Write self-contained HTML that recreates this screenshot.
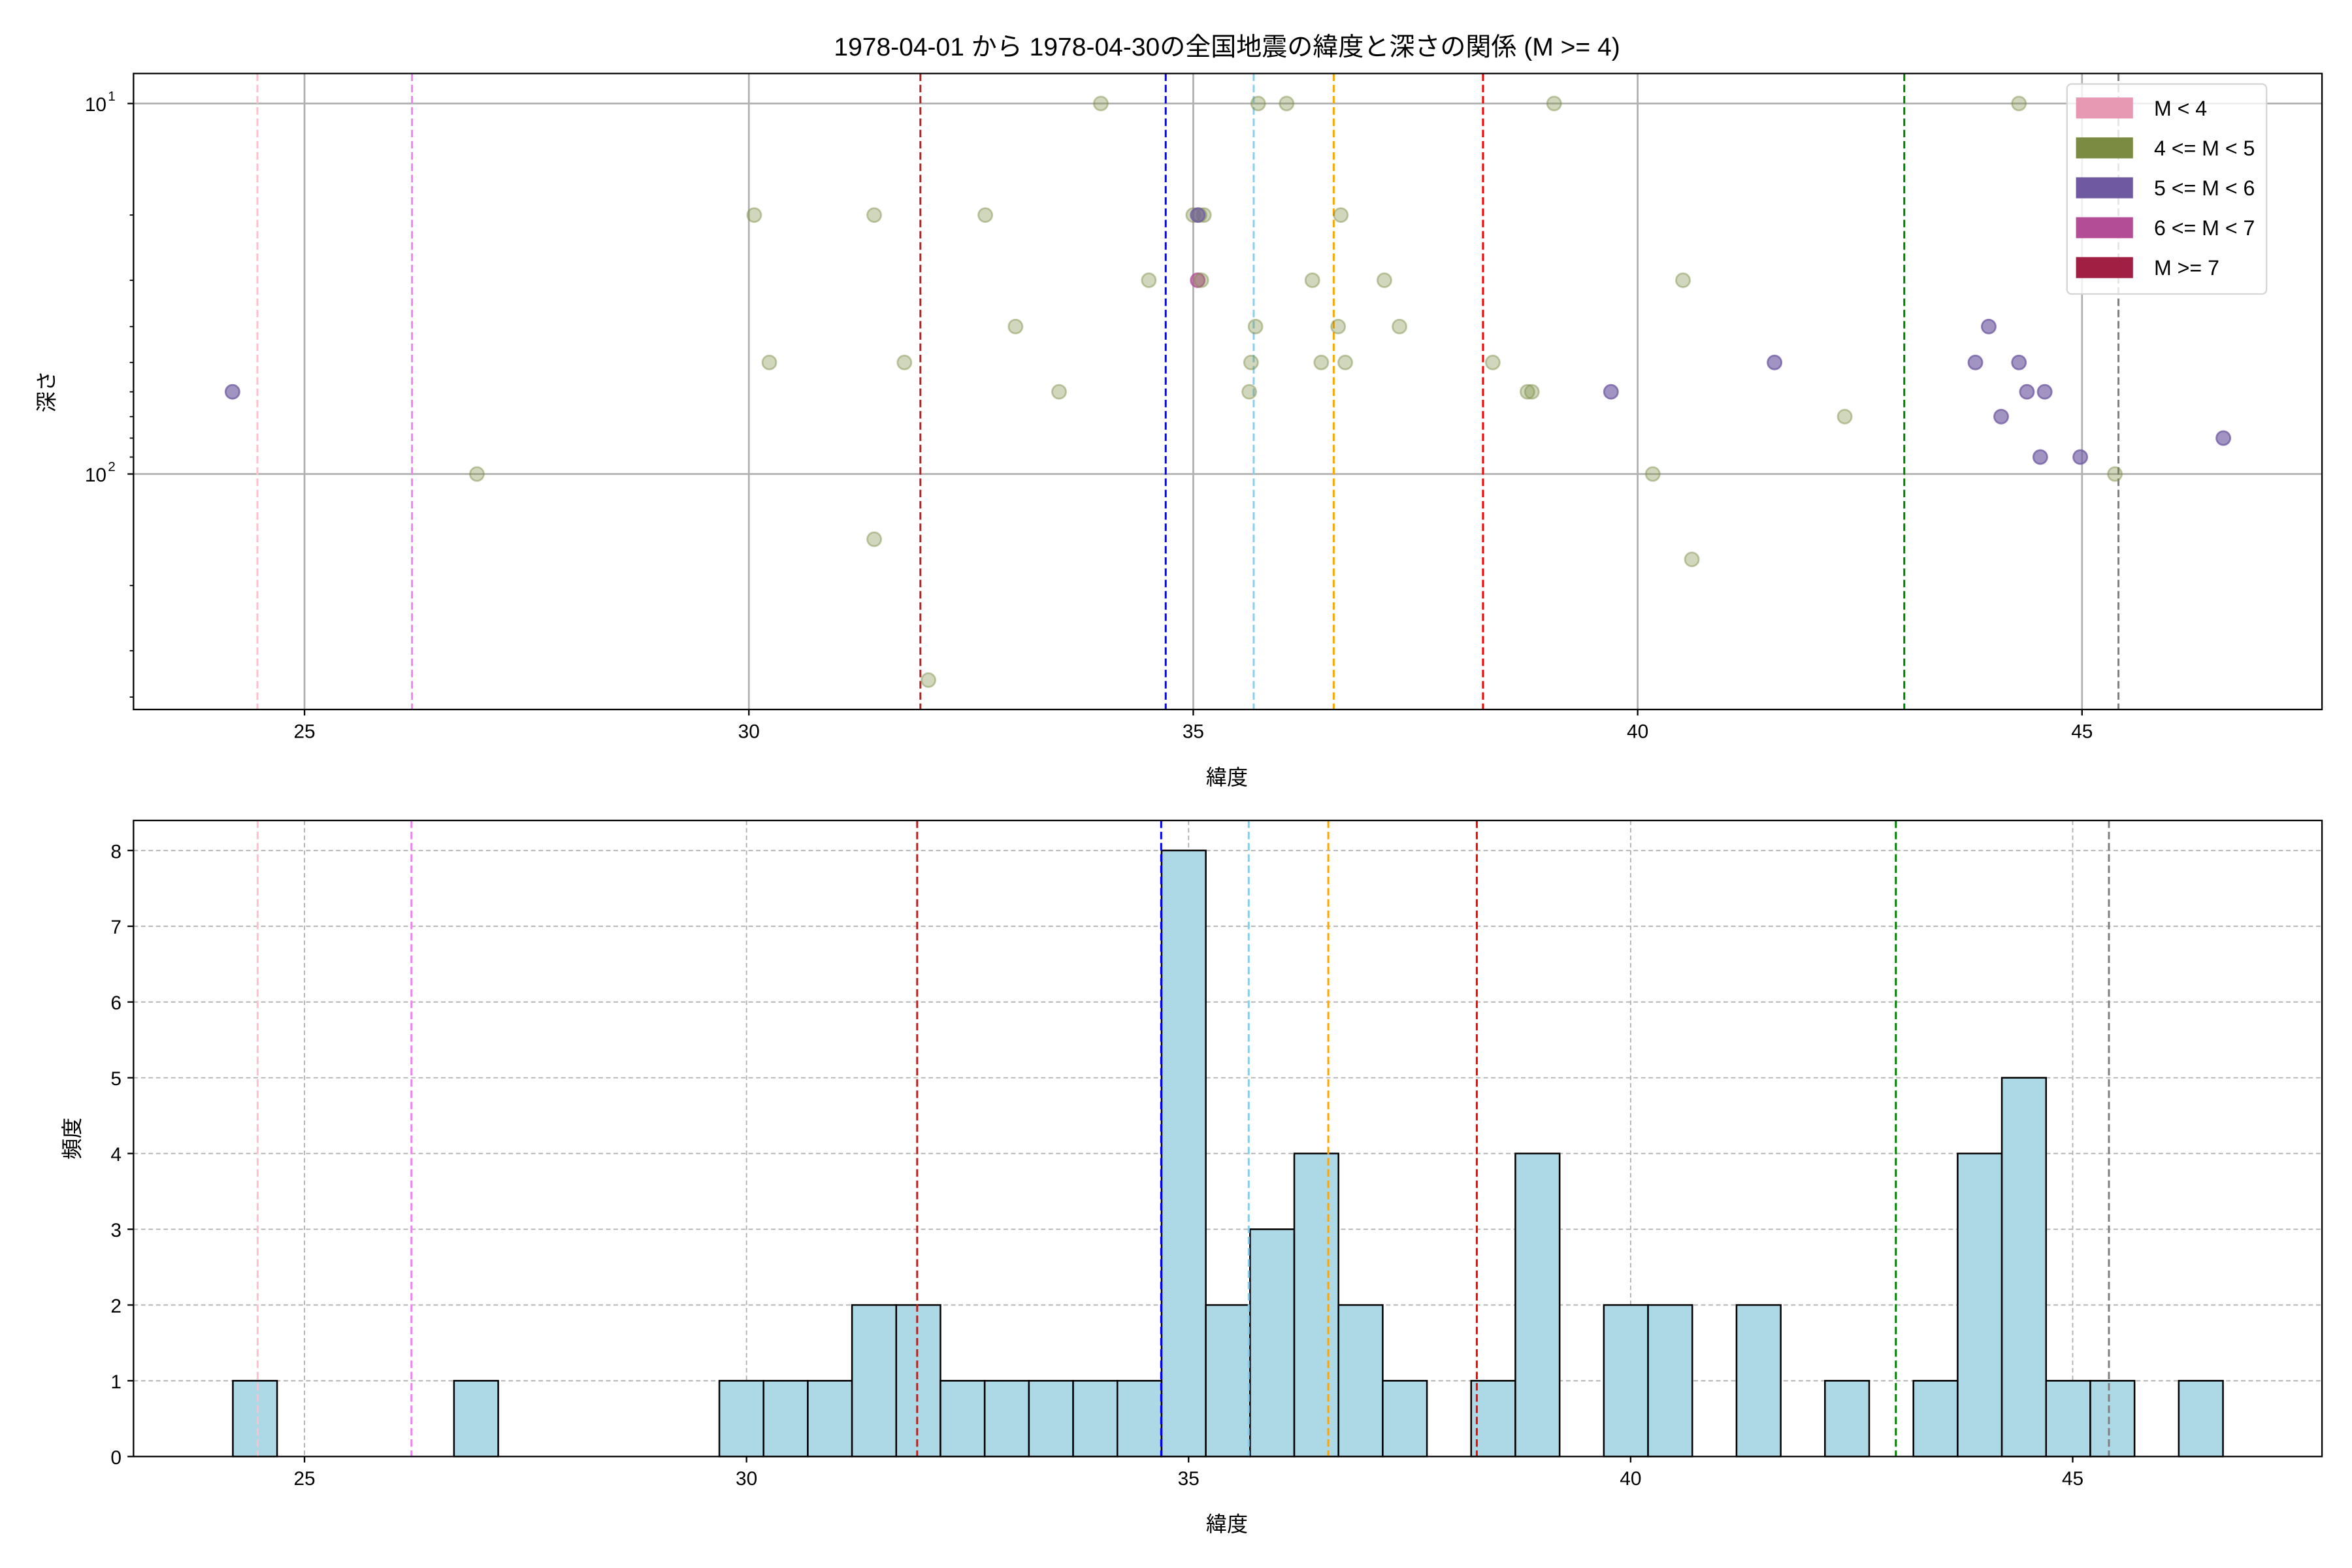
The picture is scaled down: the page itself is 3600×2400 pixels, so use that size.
<!DOCTYPE html>
<html><head><meta charset="utf-8"><style>
html,body{margin:0;padding:0;background:#fff}
svg{display:block}
text{font-family:"Liberation Sans","Noto Sans CJK JP",sans-serif;fill:#000}
</style></head><body>
<svg id="chart" xmlns="http://www.w3.org/2000/svg" width="3600" height="2400" viewBox="0 0 1568 1045.33">
<rect width="1568" height="1045.33" fill="#fff"/>
<text x="818" y="37" font-size="17" text-anchor="middle">1978-04-01 から 1978-04-30の全国地震の緯度と深さの関係 (M &gt;= 4)</text>
<g id="topg"></g><g id="botg"></g>
</svg>
<script>
const NS='http://www.w3.org/2000/svg';
// scatter data
const pointLats=[24.19,26.94,30.06,30.23,31.41,31.41,31.75,32.02,32.66,33.0,33.49,33.96,34.5,35.0,35.07,35.12,35.05,35.09,35.65,35.63,35.7,35.73,36.05,36.34,36.44,36.63,36.66,36.71,37.15,37.32,38.37,38.76,38.81,39.06,39.7,40.17,40.51,40.61,41.54,42.33,43.8,43.95,44.09,44.29,44.29,44.38,44.53,44.58,44.98,45.37,46.59,35.05];
const pointDepths=[60,100,20,50,20,150,50,360,20,40,60,10,30,20,20,20,30,30,50,60,40,10,10,30,50,40,20,50,30,40,50,60,60,10,60,100,30,170,50,70,50,40,70,10,50,60,90,60,90,100,80,20];
const pointClass=[2,1,1,1,1,1,1,1,1,1,1,1,1,1,1,1,3,1,1,1,1,1,1,1,1,1,1,1,1,1,1,1,1,1,2,1,1,1,2,1,2,2,2,1,2,2,2,2,2,1,2,2];
const classColors=['#e799b3','#7b8b42','#6f5aa2','#b34d96','#a01f42'];
const classLabels=['M < 4','4 <= M < 5','5 <= M < 6','6 <= M < 7','M >= 7'];
// reference lines
const refLats=[24.47,26.21,31.93,34.69,35.68,36.58,38.26,43.0,45.41];
const refColors=['pink','violet','#b22222','blue','skyblue','orange','red','green','gray'];
// histogram data
const binStart=24.19, binEnd=46.70, binCount=45;
const binCounts=[1,0,0,0,0,1,0,0,0,0,0,1,1,1,2,2,1,1,1,1,1,8,2,3,4,2,1,0,1,4,0,2,2,0,2,0,1,0,1,4,5,1,1,0,1];
const xTicks=[25,30,35,40,45];
const hTicks=[0,1,2,3,4,5,6,7,8];

function el(p,tag,a,txt){const e=document.createElementNS(NS,tag);for(const k in a)e.setAttribute(k,a[k]);if(txt!==undefined)e.textContent=txt;p.appendChild(e);return e;}

// top axes
const T={l:89,r:1548,t:49,b:473,x0:23.076,x1:47.70};
const tx=v=>T.l+(v-T.x0)/(T.x1-T.x0)*(T.r-T.l);
const ty=d=>69+(Math.log10(d)-1)*247;
const topG=document.getElementById('topg');
xTicks.forEach(v=>{
  const g=el(topG,'line',{x1:tx(v),x2:tx(v),y1:T.t,y2:T.b,stroke:'#b0b0b0','stroke-width':1.2});
  
});
[10,100].forEach(v=>{
  const g=el(topG,'line',{x1:T.l,x2:T.r,y1:ty(v),y2:ty(v),stroke:'#b0b0b0','stroke-width':1.2});
  
});
refLats.forEach((v,i)=>{
  const g=el(topG,'line',{x1:tx(v),x2:tx(v),y1:T.t,y2:T.b,stroke:refColors[i],'stroke-width':1.3,'stroke-dasharray':'5,2.5'});
  
});
pointLats.forEach((v,i)=>{
  const c=classColors[pointClass[i]];
  const op=pointClass[i]===1?0.35:0.65;
  const g=el(topG,'circle',{cx:tx(v),cy:ty(pointDepths[i]),r:4.6,fill:c,'fill-opacity':op,stroke:c,'stroke-opacity':op+0.1,'stroke-width':1.2});
  
});
let f=el(topG,'rect',{x:T.l,y:T.t,width:T.r-T.l,height:T.b-T.t,fill:'none',stroke:'#000','stroke-width':1});

xTicks.forEach(v=>{
  el(topG,'line',{x1:tx(v),x2:tx(v),y1:T.b,y2:T.b+4,stroke:'#000'});
  const t=el(topG,'text',{x:tx(v),y:T.b+19,'font-size':13,'text-anchor':'middle'},String(v));
  
});
[10,100].forEach(v=>{
  el(topG,'line',{x1:T.l-4,x2:T.l,y1:ty(v),y2:ty(v),stroke:'#000'});
  const t=el(topG,'text',{x:T.l-18,y:ty(v)+5,'font-size':13,'text-anchor':'end'},'10');
  
  el(topG,'text',{x:T.l-17,y:ty(v)-2,'font-size':9},v===10?'1':'2');
});
[20,30,40,50,60,70,80,90,200,300,400].forEach(v=>{el(topG,'line',{x1:T.l-2.5,x2:T.l,y1:ty(v),y2:ty(v),stroke:'#000','stroke-width':0.8});});
let xl=el(topG,'text',{x:818,y:523,'font-size':14,'text-anchor':'middle'},'緯度');
let yl=el(topG,'text',{x:36,y:261,'font-size':14,'text-anchor':'middle',transform:'rotate(-90 36 261)'},'深さ');
// legend
const lg=el(topG,'g',{});
el(lg,'rect',{x:1378,y:56,width:133,height:140,rx:3,fill:'#fff','fill-opacity':0.8,stroke:'#d5d5d5','stroke-width':1});
classLabels.forEach((s,i)=>{
  const y=65+i*26.6;
  const r=el(lg,'rect',{x:1384,y:y,width:38,height:14,fill:classColors[i]});
  
  const t=el(lg,'text',{x:1436,y:y+12,'font-size':14},s);
  
});

// bottom axes
const B={l:89,r:1548,t:547,b:971,x0:23.066,x1:47.82,ymax:8.396};
const bx=v=>B.l+(v-B.x0)/(B.x1-B.x0)*(B.r-B.l);
const by=v=>B.b-v/B.ymax*(B.b-B.t);
const botG=document.getElementById('botg');
xTicks.forEach(v=>{const g=el(botG,'line',{x1:bx(v),x2:bx(v),y1:B.t,y2:B.b,stroke:'#b0b0b0','stroke-width':0.8,'stroke-dasharray':'3,2'});});
hTicks.forEach(v=>{const g=el(botG,'line',{x1:B.l,x2:B.r,y1:by(v),y2:by(v),stroke:'#b0b0b0','stroke-width':0.8,'stroke-dasharray':'3,2'});});
const bw=(binEnd-binStart)/binCount;
binCounts.forEach((c,i)=>{
  if(!c)return;
  const x0=bx(binStart+i*bw),x1=bx(binStart+(i+1)*bw);
  const r=el(botG,'rect',{x:x0,y:by(c),width:x1-x0,height:by(0)-by(c),fill:'#add8e6',stroke:'#000','stroke-width':1.1});
  
});
refLats.forEach((v,i)=>{const g=el(botG,'line',{x1:bx(v),x2:bx(v),y1:B.t,y2:B.b,stroke:refColors[i],'stroke-width':1.3,'stroke-dasharray':'5,2.5'});});
f=el(botG,'rect',{x:B.l,y:B.t,width:B.r-B.l,height:B.b-B.t,fill:'none',stroke:'#000','stroke-width':1});

xTicks.forEach(v=>{el(botG,'line',{x1:bx(v),x2:bx(v),y1:B.b,y2:B.b+4,stroke:'#000'});const t=el(botG,'text',{x:bx(v),y:B.b+19,'font-size':13,'text-anchor':'middle'},String(v));});
hTicks.forEach(v=>{el(botG,'line',{x1:B.l-4,x2:B.l,y1:by(v),y2:by(v),stroke:'#000'});const t=el(botG,'text',{x:B.l-8,y:by(v)+5,'font-size':13,'text-anchor':'end'},String(v));});
xl=el(botG,'text',{x:818,y:1021,'font-size':14,'text-anchor':'middle'},'緯度');
yl=el(botG,'text',{x:53,y:759,'font-size':14,'text-anchor':'middle',transform:'rotate(-90 53 759)'},'頻度');
</script>
</body></html>
